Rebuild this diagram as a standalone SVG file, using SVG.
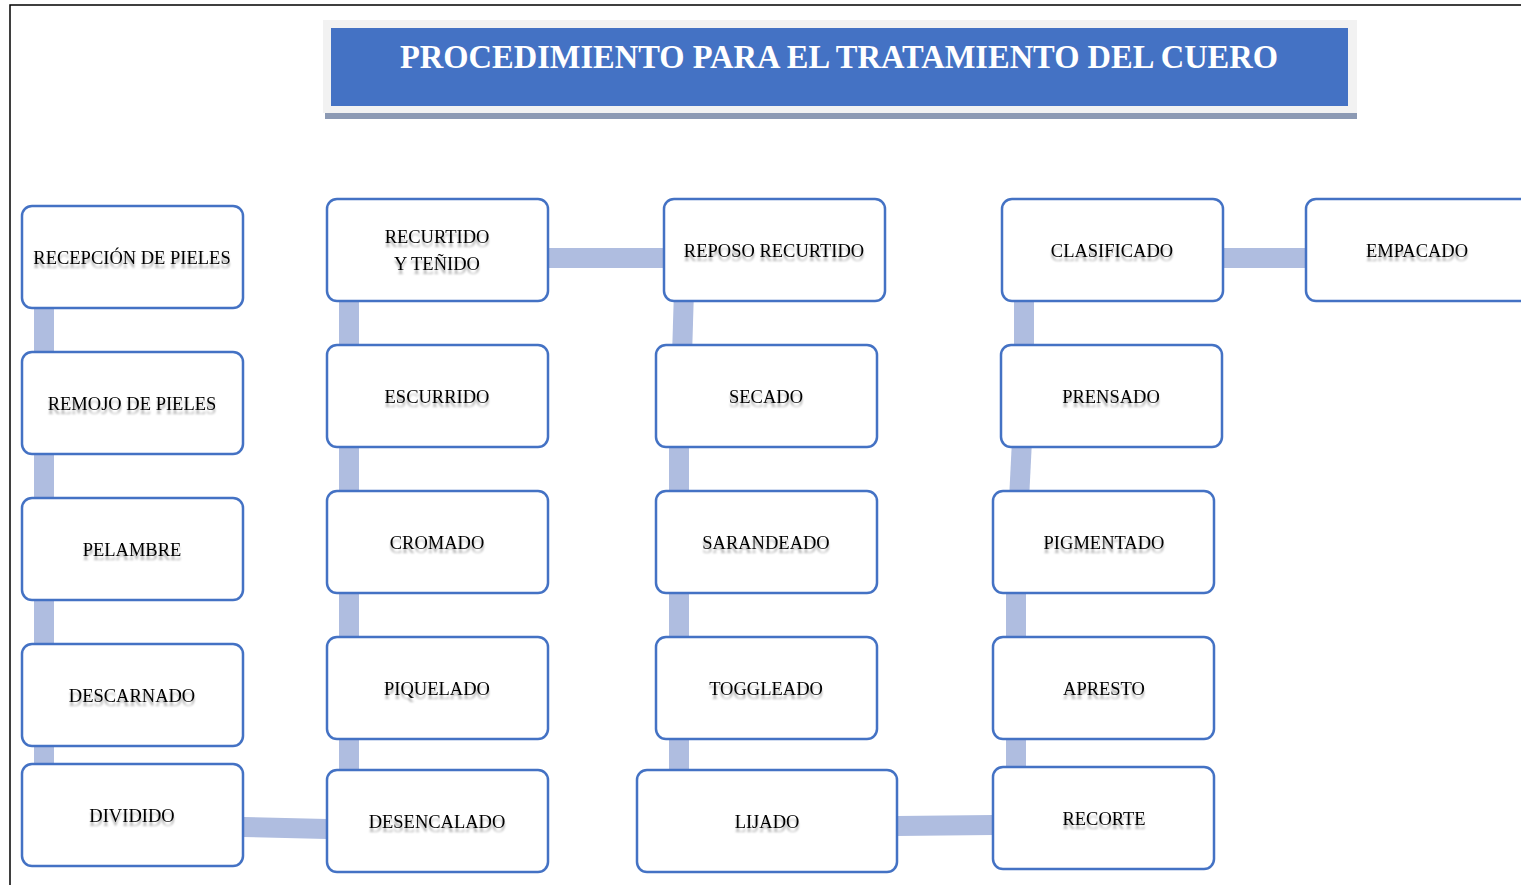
<svg xmlns="http://www.w3.org/2000/svg" width="1521" height="885" viewBox="0 0 1521 885">
<style>
.box{fill:#fff;stroke:#4472C4;stroke-width:2.5}
.lbl{font-family:"Liberation Serif","Times New Roman",serif;font-size:18.5px;fill:#000;text-anchor:middle;filter:url(#refl)}
.con{stroke:#AFBDE0;stroke-width:20;fill:none}
.title{font-family:"Liberation Serif","Times New Roman",serif;font-size:33px;font-weight:bold;fill:#fff;text-anchor:middle}
</style>
<defs>
<filter id="refl" x="-10%" y="-30%" width="120%" height="190%">
<feOffset in="SourceAlpha" dy="4" result="o"/>
<feGaussianBlur in="o" stdDeviation="1.2" result="b"/>
<feComponentTransfer in="b" result="f"><feFuncA type="linear" slope="0.35"/></feComponentTransfer>
<feMerge><feMergeNode in="f"/><feMergeNode in="SourceGraphic"/></feMerge>
</filter>
</defs>
<rect width="1521" height="885" fill="#fff"/>
<path d="M10 885 V5 H1521" fill="none" stroke="#000" stroke-width="1.5"/>

<g id="title">
<rect x="325" y="112" width="1032" height="7" fill="#8C9AB4"/>
<rect x="323" y="20" width="1034" height="93" fill="#F2F2F2"/>
<rect x="331" y="28" width="1017" height="78" fill="#4472C4"/>
<text class="title" x="839" y="68" textLength="878" lengthAdjust="spacingAndGlyphs">PROCEDIMIENTO PARA EL TRATAMIENTO DEL CUERO</text>
</g>

<g id="connectors">
<line class="con" x1="44" y1="257" x2="44" y2="815"/>
<line class="con" x1="243" y1="827" x2="327" y2="829"/>
<line class="con" x1="349" y1="821" x2="349" y2="250"/>
<line class="con" x1="548" y1="258" x2="664" y2="258"/>
<line class="con" x1="684" y1="290" x2="682" y2="356"/>
<line class="con" x1="679" y1="396" x2="679" y2="821"/>
<line class="con" x1="897" y1="826" x2="993" y2="825"/>
<line class="con" x1="1016" y1="818" x2="1016" y2="542"/>
<line class="con" x1="1019" y1="500" x2="1022" y2="440"/>
<line class="con" x1="1024" y1="396" x2="1024" y2="250"/>
<line class="con" x1="1223" y1="258" x2="1306" y2="258"/>
</g>

<g id="n1"><rect class="box" x="22" y="206" width="221" height="102" rx="10"/><text class="lbl" x="132" y="264">RECEPCIÓN DE PIELES</text></g>
<g id="n2"><rect class="box" x="22" y="352" width="221" height="102" rx="10"/><text class="lbl" x="132" y="410">REMOJO DE PIELES</text></g>
<g id="n3"><rect class="box" x="22" y="498" width="221" height="102" rx="10"/><text class="lbl" x="132" y="556">PELAMBRE</text></g>
<g id="n4"><rect class="box" x="22" y="644" width="221" height="102" rx="10"/><text class="lbl" x="132" y="702">DESCARNADO</text></g>
<g id="n5"><rect class="box" x="22" y="764" width="221" height="102" rx="10"/><text class="lbl" x="132" y="822">DIVIDIDO</text></g>

<g id="n6"><rect class="box" x="327" y="770" width="221" height="102" rx="10"/><text class="lbl" x="437" y="828">DESENCALADO</text></g>
<g id="n7"><rect class="box" x="327" y="637" width="221" height="102" rx="10"/><text class="lbl" x="437" y="695">PIQUELADO</text></g>
<g id="n8"><rect class="box" x="327" y="491" width="221" height="102" rx="10"/><text class="lbl" x="437" y="549">CROMADO</text></g>
<g id="n9"><rect class="box" x="327" y="345" width="221" height="102" rx="10"/><text class="lbl" x="437" y="403">ESCURRIDO</text></g>
<g id="n10"><rect class="box" x="327" y="199" width="221" height="102" rx="10"/><text class="lbl" x="437" y="243">RECURTIDO</text><text class="lbl" x="437" y="270">Y TEÑIDO</text></g>

<g id="n11"><rect class="box" x="664" y="199" width="221" height="102" rx="10"/><text class="lbl" x="774" y="257">REPOSO RECURTIDO</text></g>
<g id="n12"><rect class="box" x="656" y="345" width="221" height="102" rx="10"/><text class="lbl" x="766" y="403">SECADO</text></g>
<g id="n13"><rect class="box" x="656" y="491" width="221" height="102" rx="10"/><text class="lbl" x="766" y="549">SARANDEADO</text></g>
<g id="n14"><rect class="box" x="656" y="637" width="221" height="102" rx="10"/><text class="lbl" x="766" y="695">TOGGLEADO</text></g>
<g id="n15"><rect class="box" x="637" y="770" width="260" height="102" rx="10"/><text class="lbl" x="767" y="828">LIJADO</text></g>

<g id="n16"><rect class="box" x="993" y="767" width="221" height="102" rx="10"/><text class="lbl" x="1104" y="825">RECORTE</text></g>
<g id="n17"><rect class="box" x="993" y="637" width="221" height="102" rx="10"/><text class="lbl" x="1104" y="695">APRESTO</text></g>
<g id="n18"><rect class="box" x="993" y="491" width="221" height="102" rx="10"/><text class="lbl" x="1104" y="549">PIGMENTADO</text></g>
<g id="n19"><rect class="box" x="1001" y="345" width="221" height="102" rx="10"/><text class="lbl" x="1111" y="403">PRENSADO</text></g>
<g id="n20"><rect class="box" x="1002" y="199" width="221" height="102" rx="10"/><text class="lbl" x="1112" y="257">CLASIFICADO</text></g>
<g id="n21"><rect class="box" x="1306" y="199" width="224" height="102" rx="10"/><text class="lbl" x="1417" y="257">EMPACADO</text></g>
</svg>
